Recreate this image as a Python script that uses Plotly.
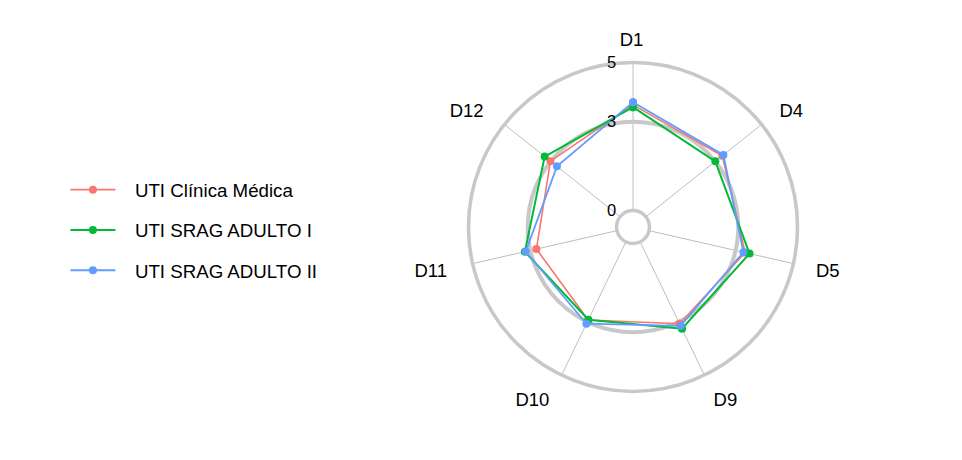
import plotly.graph_objects as go

categories = ["D1", "D4", "D5", "D9", "D10", "D11", "D12"]
series_names = ["UTI Clínica Médica", "UTI SRAG ADULTO I", "UTI SRAG ADULTO II"]
clinica_medica = [3.57, 3.30, 3.33, 3.07, 2.93, 2.79, 3.01]
srag_adulto_1 = [3.49, 3.00, 3.48, 3.26, 2.92, 3.19, 3.26]
srag_adulto_2 = [3.66, 3.35, 3.27, 3.15, 3.07, 3.16, 2.73]
grid_vals = [0, 3, 5]
grid_labels = ["0", "3", "5"]

colors = ["#F8766D", "#00BA38", "#619CFF"]
widths = [1.6, 2.0, 1.8]
all_series = [clinica_medica, srag_adulto_1, srag_adulto_2]

# ggradar-style geometry: centre offset = 1/9 of range -> hole 0.1; axis labels at 1.15 R
HOLE = 0.1
LABEL_OFFSET = 1.15
OUTER = 1.2  # radius of the invisible label ring subplot, relative to R
rmin, rmax = grid_vals[0], grid_vals[-1]

n = len(categories)
label_pos = []
for i in range(n):
    ang = 360.0 * i / n
    if ang < 1e-6 or abs(ang - 180) < 1e-6:
        label_pos.append("middle center")
    elif ang < 180:
        label_pos.append("middle right")
    else:
        label_pos.append("middle left")

NB = "\u00a0"
fig = go.Figure()
for name, vals, col, w in zip(series_names, all_series, colors, widths):
    fig.add_trace(go.Scatterpolar(
        r=vals + vals[:1],
        theta=categories + categories[:1],
        mode="lines+markers",
        name="\u2002" + NB + name,
        legendgroup=name,
        line=dict(color=col, width=w),
        marker=dict(color=col, size=8),
        cliponaxis=False,
        subplot="polar",
    ))

# category labels around the chart, on an invisible concentric polar subplot
fig.add_trace(go.Scatterpolar(
    r=[LABEL_OFFSET] * n,
    theta=categories,
    mode="text",
    text=categories,
    textposition=label_pos,
    textfont=dict(size=18.5, color="black", family="Liberation Sans, Arial, sans-serif"),
    showlegend=False,
    hoverinfo="skip",
    cliponaxis=False,
    subplot="polar2",
))

W, H = 962, 460
cx, cy, R = 633, 227, 164.5
R2 = R * OUTER
cx2, cy2 = cx - 1.5, cy + 3.5  # small optical adjustment for text anchoring
fig.update_layout(
    width=W, height=H,
    margin=dict(l=0, r=0, t=0, b=0),
    paper_bgcolor="white",
    plot_bgcolor="white",
    font=dict(family="Liberation Sans, Arial, sans-serif", size=18, color="black"),
    polar=dict(
        domain=dict(x=[(cx - R) / W, (cx + R) / W], y=[(H - cy - R) / H, (H - cy + R) / H]),
        bgcolor="white",
        hole=HOLE,
        radialaxis=dict(
            range=[rmin, rmax],
            tickvals=grid_vals,
            ticktext=[t + NB * 3 for t in grid_labels],
            showline=False,
            ticks="",
            gridcolor="#C8C8C8",
            gridwidth=3.5,
            angle=90,
            tickangle=90,
            side="counterclockwise",
            tickfont=dict(size=16.5, color="black"),
        ),
        angularaxis=dict(
            type="category",
            categoryarray=categories,
            direction="clockwise",
            rotation=90,
            showline=True,
            linecolor="#C8C8C8",
            linewidth=3.5,
            gridcolor="#BEBEBE",
            gridwidth=0.7,
            ticks="",
            showticklabels=False,
        ),
    ),
    polar2=dict(
        domain=dict(x=[(cx2 - R2) / W, (cx2 + R2) / W], y=[(H - cy2 - R2) / H, (H - cy2 + R2) / H]),
        bgcolor="rgba(0,0,0,0)",
        radialaxis=dict(range=[0, OUTER], visible=False, showgrid=False),
        angularaxis=dict(
            type="category",
            categoryarray=categories,
            direction="clockwise",
            rotation=90,
            visible=False,
            showgrid=False,
            showline=False,
        ),
    ),
    showlegend=True,
    legend=dict(
        x=0.068, y=0.5, xanchor="left", yanchor="middle",
        font=dict(size=18.7, color="black"),
        tracegroupgap=13,
        itemwidth=45,
        bgcolor="rgba(0,0,0,0)",
    ),
)

fig.write_html("out.html")
